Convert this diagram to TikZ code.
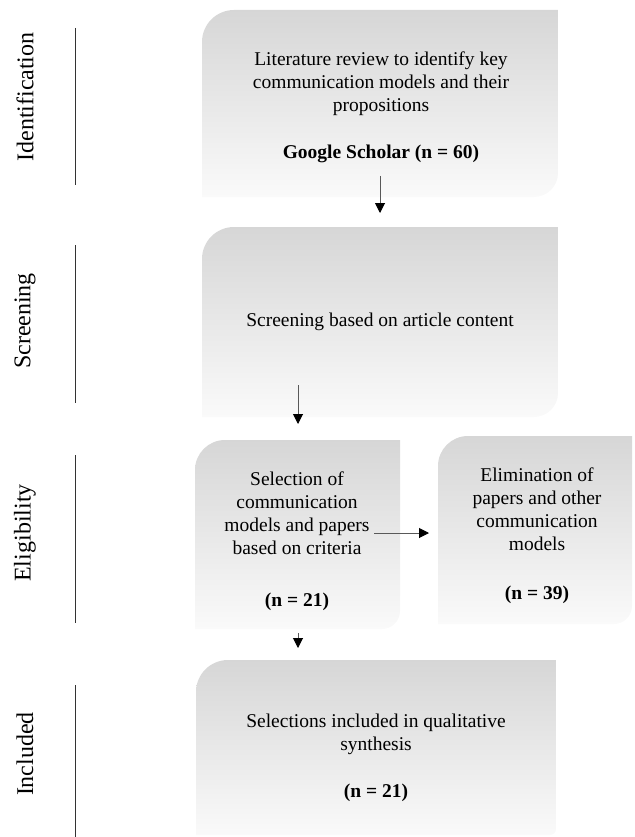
\documentclass[tikz,border=0pt]{standalone}
\usepackage{fontspec}
\setmainfont{Liberation Serif}
\usetikzlibrary{arrows.meta}
\tikzset{
  boxshade/.style={top color=black!16, bottom color=black!2, draw=none},
  boxtext/.style={align=center, font=\fontsize{19.5}{23}\selectfont, inner sep=0pt},
  counttext/.style={font=\fontsize{19.5}{23}\selectfont\bfseries, inner sep=0pt},
  sidelabel/.style={rotate=90, font=\fontsize{24}{28}\selectfont, inner sep=0pt},
  sideline/.style={draw=black!80, line width=0.9pt},
  flowarrow/.style={draw=black!65, line width=1pt, -{Triangle[width=10pt,length=10pt,color=black]}}
}
% x1, ytop, x2, ybot, top-left radius, bottom-right radius (pixel coords, y down)
\newcommand{\flowbox}[6]{%
  \path[boxshade] (#1,-#4) -- (#1,{-#2-#5}) arc[start angle=180,end angle=90,radius=#5]
    -- (#3,-#2) -- (#3,{-#4+#6}) arc[start angle=0,end angle=-90,radius=#6] -- cycle;}
\begin{document}
\begin{tikzpicture}[x=1pt,y=1pt]
\useasboundingbox (0,0) rectangle (634,-837);

% boxes
\flowbox{202}{10}{558}{197}{32}{24}
\flowbox{202}{227}{558}{417}{32}{24}
\flowbox{195}{440}{400}{629}{30}{18}
\flowbox{438}{436}{632}{624}{30}{18}
\flowbox{196}{660}{556}{835}{32}{6}

% side labels and rules
\node[sidelabel] (lid) at (25,-97) {Identification};
\node[sidelabel] (lsc) at (25,-321) {Screening};
\node[sidelabel] (lel) at (25,-533) {Eligibility};
\node[sidelabel] (lin) at (25,-754) {Included};
\coordinate (r1t) at (75,-28);  \coordinate (r1b) at (75,-185);
\coordinate (r2t) at (75,-245); \coordinate (r2b) at (75,-403);
\coordinate (r3t) at (75,-455); \coordinate (r3b) at (75,-623);
\coordinate (r4t) at (75,-685); \coordinate (r4b) at (75,-837);
\draw[sideline] (r1t) -- (r1b);
\draw[sideline] (r2t) -- (r2b);
\draw[sideline] (r3t) -- (r3b);
\draw[sideline] (r4t) -- (r4b);

% texts
\node[boxtext] (b1) at (381,-84) {Literature review to identify key\\communication models and their\\propositions};
\node[counttext] (n1) at (381,-154) {Google Scholar (n = 60)};
\node[boxtext] (b2) at (380,-322) {Screening based on article content};
\node[boxtext] (b3) at (297,-513) {Selection of\\communication\\models and papers\\based on criteria};
\node[counttext] (n3) at (297,-602) {(n = 21)};
\node[boxtext] (b4) at (537,-509) {Elimination of\\papers and other\\communication\\models};
\node[counttext] (n4) at (537,-595) {(n = 39)};
\node[boxtext] (b5) at (376,-734) {Selections included in qualitative\\synthesis};
\node[counttext] (n5) at (376,-793) {(n = 21)};

% arrows
\coordinate (a1s) at (380,-176); \coordinate (a1e) at (380,-213);
\coordinate (a2s) at (298,-385); \coordinate (a2e) at (298,-424);
\coordinate (a3s) at (374,-533); \coordinate (a3e) at (429,-533);
\coordinate (a4s) at (298,-633); \coordinate (a4e) at (298,-648);
\draw[flowarrow] (a1s) -- (a1e);
\draw[flowarrow] (a2s) -- (a2e);
\draw[flowarrow] (a3s) -- (a3e);
\draw[flowarrow] (a4s) -- (a4e);
\end{tikzpicture}
\end{document}
